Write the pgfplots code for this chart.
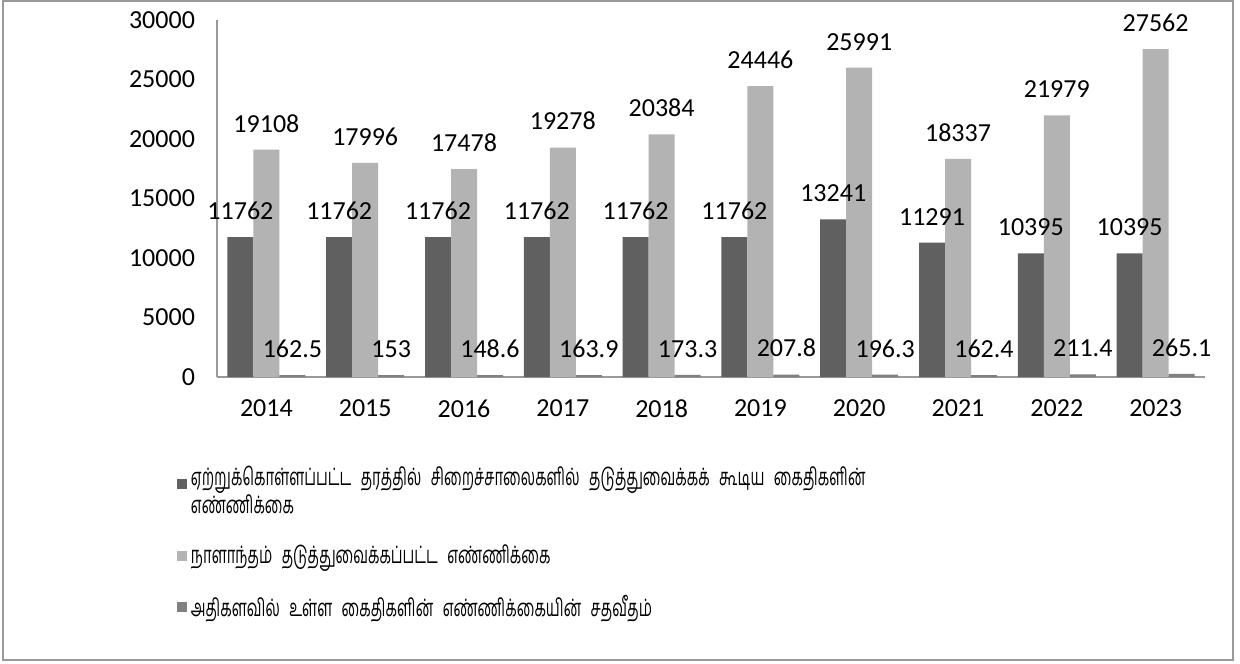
\documentclass[border=0pt]{standalone}
\usepackage{fontspec}
\setmainfont{Carlito}
\newfontfamily\tamil[Script=Tamil, FakeStretch=0.62, WordSpace=2.6]{Hind Madurai}
\usepackage{pgfplots}
\pgfplotsset{compat=1.18}
\definecolor{sA}{HTML}{606060}
\definecolor{sB}{HTML}{B3B3B3}
\definecolor{sC}{HTML}{808080}
\begin{document}
\begin{tikzpicture}
\useasboundingbox (0pt,0pt) rectangle (620pt,-331.5pt);
\draw[gray!80, line width=0.75pt] (1.5pt,-0.5pt) rectangle (616.5pt,-330pt);
\begin{axis}[
  at={(108.5pt,-188.5pt)}, anchor=south west,
  scale only axis, width=494pt, height=178.5pt,
  ybar=0pt, bar width=13pt,
  xmin=-0.5, xmax=9.5, ymin=0, ymax=30000,
  xtick={0,...,9}, xticklabels={2014,2015,2016,2017,2018,2019,2020,2021,2022,2023},
  ytick={0,5000,...,30000},
  axis x line*=bottom, axis y line*=left,
  axis line style={draw=gray!80, line width=0.75pt},
  major tick length=0pt,
  scaled y ticks=false,
  /pgf/number format/.cd, fixed, 1000 sep={}, assume math mode=true, /pgfplots/.cd,
  tick label style={font=\fontsize{13}{15}\selectfont, black},
  yticklabel style={xshift=-7.5pt},
  xticklabel style={yshift=-8pt},
  nodes near coords,
  every node near coord/.append style={font=\fontsize{13}{15}\selectfont, black, anchor=base, yshift=8.8pt},
  legend style={draw=none, at={(-0.047,-0.225)}, anchor=north west, row sep=10pt,
    font=\tamil\fontsize{12}{11.5}\selectfont,
    cells={anchor=west, align=left}},
  legend cell align=left,
]
\addplot[fill=sA, draw=none, legend image code/.code={\fill[sA] (0pt,1pt) rectangle (5pt,6pt);}] coordinates {(0,11762) (1,11762) (2,11762) (3,11762) (4,11762) (5,11762) (6,13241) (7,11291) (8,10395) (9,10395)};
\addplot[fill=sB, draw=none, legend image code/.code={\fill[sB] (0pt,-2.5pt) rectangle (5pt,2.5pt);}] coordinates {(0,19108) (1,17996) (2,17478) (3,19278) (4,20384) (5,24446) (6,25991) (7,18337) (8,21979) (9,27562)};
\addplot[fill=sC, draw=none, legend image code/.code={\fill[sC] (0pt,-2.5pt) rectangle (5pt,2.5pt);}] coordinates {(0,162.5) (1,153) (2,148.6) (3,163.9) (4,173.3) (5,207.8) (6,196.3) (7,162.4) (8,211.4) (9,265.1)};
\legend{ஏற்றுக்கொள்ளப்பட்ட தரத்தில் சிறைச்சாலைகளில் தடுத்துவைக்கக் கூடிய கைதிகளின்\\எண்ணிக்கை, நாளாந்தம் தடுத்துவைக்கப்பட்ட எண்ணிக்கை\rule[-13.5pt]{0pt}{0pt}, அதிகளவில் உள்ள கைதிகளின் எண்ணிக்கையின் சதவீதம்}
\end{axis}
\end{tikzpicture}
\end{document}
